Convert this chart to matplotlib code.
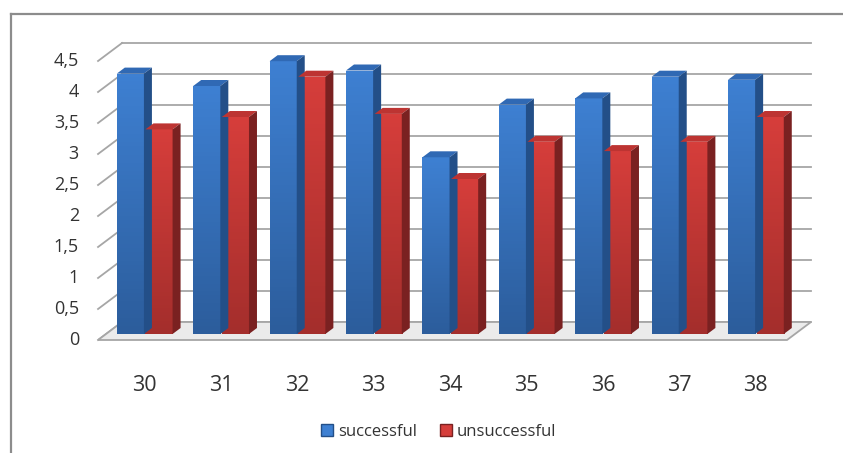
import matplotlib as mpl
mpl.use('Agg')
import matplotlib.pyplot as plt
import numpy as np
from matplotlib.patches import Polygon, Patch
from matplotlib.colors import LinearSegmentedColormap
from matplotlib.lines import Line2D

plt.rcParams['font.family'] = ['Open Sans', 'DejaVu Sans']

categories = ['30', '31', '32', '33', '34', '35', '36', '37', '38']
successful = [4.2, 4.0, 4.4, 4.25, 2.85, 3.7, 3.8, 4.15, 4.1]
unsuccessful = [3.3, 3.5, 4.15, 3.55, 2.5, 3.1, 2.95, 3.1, 3.5]
yticks = [0, 0.5, 1, 1.5, 2, 2.5, 3, 3.5, 4, 4.5]
ytick_labels = ['0', '0,5', '1', '1,5', '2', '2,5', '3', '3,5', '4', '4,5']
series_names = ['successful', 'unsuccessful']

# colours: front top, front bottom, top face, side face
blue = ('#3e80d2', '#2c5d9c', '#3069b4', '#234f88')
red = ('#d63e3b', '#a42e2c', '#bd3432', '#7a2121')
text_col = '#333333'
grid_col = '#a6a6a6'

W, H = 843, 453
fig = plt.figure(figsize=(W / 100, H / 100), dpi=100)
ax = fig.add_axes([0, 0, 1, 1])
ax.axis('off')

# pixel scale of the chart plane
px_x = 76.4   # pixels per category
px_y = 62.0   # pixels per unit value
x0 = 144.5    # pixel x of first category centre
y0 = 334.0    # pixel y (from top) of value 0 on the bar plane
xlim = (-x0 / px_x, (W - x0) / px_x)
ylim = ((y0 - H) / px_y, y0 / px_y)

# 3d offsets (in data units)
bdx, bdy = 8 / px_x, 6 / px_y          # bar depth
fdx, fdy = -8 / px_x, -6 / px_y        # front edge of floor
wdx, wdy = 16 / px_x, 12 / px_y        # back wall
nx = len(categories)
left_x = -0.294 - wdx
right_x = 8.724 - wdx

# back wall grid + left diagonals
for t in yticks:
    ax.plot([left_x + wdx, right_x + wdx], [t + wdy, t + wdy], color=grid_col, lw=1.3, zorder=1)
    ax.plot([left_x + fdx, left_x + wdx], [t + fdy, t + wdy], color=grid_col, lw=1.3, zorder=1)
    ax.text(left_x + fdx - 0.25, t + fdy, ytick_labels[yticks.index(t)], ha='right', va='center',
            fontsize=13, color=text_col)

# floor
floor = Polygon([(left_x + fdx, fdy), (right_x + fdx, fdy), (right_x + wdx, wdy), (left_x + wdx, wdy)],
                closed=True, facecolor='#ebebeb', edgecolor=grid_col, lw=1.3, zorder=2)
ax.add_patch(floor)

grad = np.linspace(0, 1, 64).reshape(-1, 1)
bw = 0.355
offs = [-0.185, 0.19]


def bar3d(xc, h, cols):
    cmap = LinearSegmentedColormap.from_list('g', [cols[1], cols[0]])
    bars = ax.bar(xc, h, width=bw, color=cols[0], zorder=3, lw=0)
    p = bars[0]
    xl = xc - bw / 2
    im = ax.imshow(grad, extent=[xl, xl + bw, 0, h], origin='lower', aspect='auto', cmap=cmap, zorder=3.1)
    im.set_clip_path(p)
    top = Polygon([(xl, h), (xl + bw, h), (xl + bw + bdx, h + bdy), (xl + bdx, h + bdy)],
                  closed=True, facecolor=cols[2], lw=0, zorder=3.2)
    side = Polygon([(xl + bw, 0), (xl + bw + bdx, bdy), (xl + bw + bdx, h + bdy), (xl + bw, h)],
                   closed=True, facecolor=cols[3], lw=0, zorder=3.2)
    ax.add_patch(top)
    ax.add_patch(side)


for i in range(nx):
    bar3d(i + offs[0], successful[i], blue)
    bar3d(i + offs[1], unsuccessful[i], red)
    ax.text(i, -0.823, categories[i], ha='center', va='center', fontsize=15.5, color=text_col)

ax.set_xlim(*xlim)
ax.set_ylim(*ylim)

# outer frame (left and top only visible)
fig.add_artist(Line2D([11 / W, 11 / W], [0, 1 - 14 / H], color='#8c8c8c', lw=1.6))
fig.add_artist(Line2D([11 / W, 1], [1 - 14 / H, 1 - 14 / H], color='#8c8c8c', lw=1.6))

handles = [Patch(facecolor=blue[0], edgecolor=blue[3]), Patch(facecolor=red[0], edgecolor=red[3])]
fig.legend(handles, series_names, loc='center', bbox_to_anchor=(439 / W, 1 - 432 / H), ncol=2,
           frameon=False, fontsize=12, handlelength=0.7, handleheight=0.7, handletextpad=0.3,
           columnspacing=1.4, labelcolor=text_col)

fig.savefig('out.png', dpi=100)
